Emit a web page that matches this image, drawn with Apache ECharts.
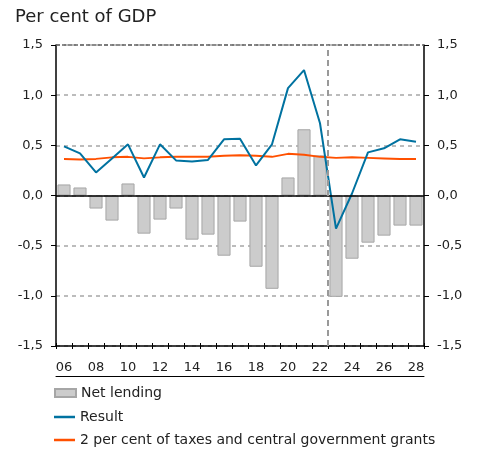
<!DOCTYPE html>
<html>
<head>
<meta charset="utf-8">
<script src="https://cdn.jsdelivr.net/npm/echarts@6/dist/echarts.min.js"></script>
<style>
  html, body { margin: 0; padding: 0; background: #fff; }
  #chart { width: 478px; height: 449px; }
</style>
</head>
<body>
<div id="chart"></div>
<script>
// Net lending vs result, per cent of GDP, 2006-2028
const years = ['06','07','08','09','10','11','12','13','14','15','16','17',
  '18','19','20','21','22','23','24','25','26','27','28'];
const netLending = [0.11, 0.08, -0.13, -0.25, 0.12, -0.38, -0.24, -0.13, -0.44, -0.39,
  -0.6, -0.26, -0.71, -0.93, 0.18, 0.66, 0.40, -1.01, -0.63, -0.47, -0.40, -0.30, -0.30];
const result = [0.49, 0.42, 0.23, 0.37, 0.51, 0.18, 0.51, 0.35, 0.34, 0.355,
  0.56, 0.565, 0.30, 0.51, 1.07, 1.25, 0.72, -0.33, 0.02, 0.43, 0.47, 0.56, 0.535];
const twoPct = [0.365, 0.36, 0.365, 0.38, 0.385, 0.37, 0.38, 0.385, 0.385, 0.385,
  0.395, 0.40, 0.395, 0.385, 0.415, 0.405, 0.385, 0.375, 0.38, 0.375, 0.37, 0.365, 0.365];
const splitAt = 16.5; // forecast starts after 2022

const NAMES = ['Net lending', 'Result', '2 per cent of taxes and central government grants'];
const FONT = 'DejaVu Sans';
const BLUE = '#0072a0';
const ORANGE = '#ff5000';
const fmt = v => v.toFixed(1).replace('.', ',');

const chart = echarts.init(document.getElementById('chart'));

const yBase = {
  type: 'value', min: -1.5, max: 1.5, interval: 0.5,
  axisLine: { show: true, onZero: false, lineStyle: { color: '#000', width: 1.5 } },
  axisTick: { show: true, length: 5, lineStyle: { color: '#000' } },
  axisLabel: { color: '#222', fontSize: 13, fontFamily: FONT, formatter: fmt, margin: 13 },
};

function legendRow(name, top, isBar) {
  return {
    left: 54, top: top, padding: 0, itemWidth: 21, itemHeight: isBar ? 8 : 2.5,
    textStyle: { fontSize: 14, color: '#222', fontFamily: FONT },
    data: [{ name: name, icon: 'rect' }],
  };
}

chart.setOption({
  animation: false,
  textStyle: { fontFamily: FONT },
  title: {
    text: 'Per cent of GDP', left: 15, top: 8, padding: 0,
    textStyle: { fontSize: 18, fontWeight: 'normal', color: '#222', fontFamily: FONT },
  },
  grid: { left: 56, right: 54, top: 45, bottom: 103 },
  legend: [
    legendRow(NAMES[0], 386, true),
    legendRow(NAMES[1], 410, false),
    legendRow(NAMES[2], 433, false),
  ],
  xAxis: [
    {
      type: 'category', data: years, position: 'bottom',
      axisLine: { onZero: false, lineStyle: { color: '#000', width: 1.5 } },
      axisTick: { show: true, interval: 0, length: 3, lineStyle: { color: '#000' } },
      axisLabel: { interval: 1, color: '#222', fontSize: 13, fontFamily: FONT, margin: 15 },
    },
    {
      type: 'category', data: years, position: 'bottom',
      axisLine: { show: false, onZero: false },
      axisTick: { show: true, inside: true, interval: 0, length: 3, lineStyle: { color: '#000' } },
      axisLabel: { show: false },
    },
    {
      type: 'category', data: years, position: 'bottom', offset: 30,
      axisLine: { show: true, onZero: false, lineStyle: { color: '#000', width: 1 } },
      axisTick: { show: false },
      axisLabel: { show: false },
    },
    {
      // hidden value axis for the forecast divider between categories
      type: 'value', min: -0.5, max: years.length - 0.5, show: false,
      axisLine: { onZero: false },
    },
  ],
  yAxis: [
    Object.assign({}, yBase, {
      position: 'left',
      splitLine: { show: true, lineStyle: { color: '#a6a6a6', type: [4, 4], width: 1.5 } },
    }),
    Object.assign({}, yBase, { position: 'right', splitLine: { show: false } }),
  ],
  series: [
    {
      name: NAMES[0], type: 'bar', data: netLending,
      barCategoryGap: '18%',
      itemStyle: { color: '#cccccc', borderColor: '#a6a6a6', borderWidth: 1 },
      markLine: {
        silent: true, symbol: 'none', label: { show: false },
        data: [
          { yAxis: 0, lineStyle: { color: '#000', type: 'solid', width: 1.5 } },
          { yAxis: 1.5, lineStyle: { color: '#666', type: [4, 2], width: 1.5 } },
        ],
      },
    },
    {
      name: 'divider', type: 'line', xAxisIndex: 3, data: [],
      markLine: {
        silent: true, symbol: 'none', label: { show: false },
        lineStyle: { color: '#999', type: [6, 4], width: 2 },
        data: [{ xAxis: splitAt }],
      },
    },
    {
      name: NAMES[1], type: 'line', data: result, symbol: 'none',
      lineStyle: { color: BLUE, width: 2 }, itemStyle: { color: BLUE }, z: 4,
    },
    {
      name: NAMES[2], type: 'line', data: twoPct, symbol: 'none',
      lineStyle: { color: ORANGE, width: 2 }, itemStyle: { color: ORANGE }, z: 3,
    },
  ],
});
</script>
</body>
</html>
